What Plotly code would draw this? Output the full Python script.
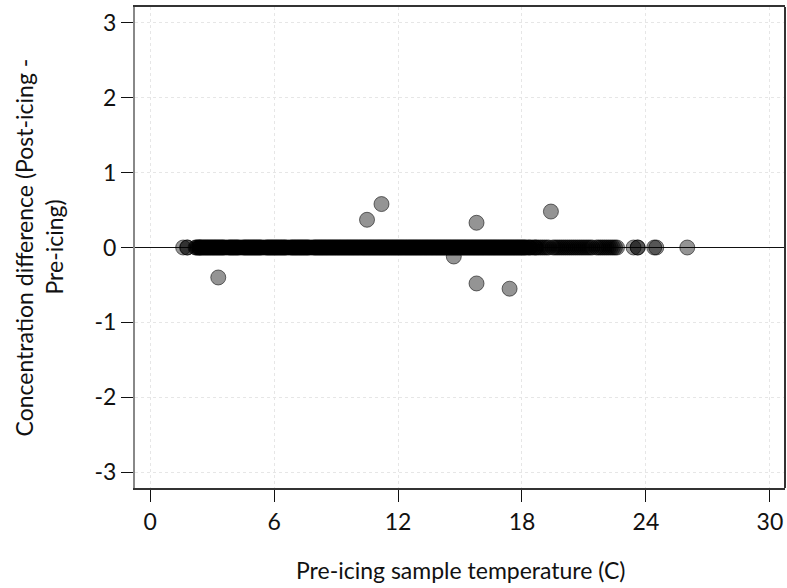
import plotly.graph_objects as go

# Samples with zero concentration difference (pre-icing temperature, C)
zero_temps = [
    1.6, 1.8, 1.8,
    2.2, 2.25, 2.3, 2.35, 2.4, 2.4, 2.45, 2.5, 2.55, 2.6, 2.65, 2.7, 2.75, 2.8, 2.85, 2.9, 2.95,
    3.0, 3.05, 3.1, 3.15, 3.2, 3.25, 3.3, 3.35, 3.4, 3.45, 3.5, 3.55, 3.6, 3.7, 3.8, 3.85, 3.9,
    3.95, 4.0, 4.05, 4.1, 4.15, 4.2, 4.25, 4.3, 4.4, 4.5, 4.55, 4.6, 4.65, 4.7, 4.75, 4.8, 4.85,
    4.9, 4.95, 5.0, 5.05, 5.1, 5.15, 5.2, 5.25, 5.3, 5.35, 5.4, 5.5, 5.6, 5.65, 5.7, 5.75, 5.8,
    5.85, 5.9, 5.95, 6.0, 6.05, 6.1, 6.15, 6.2, 6.25, 6.3, 6.35, 6.4, 6.45, 6.5, 6.55, 6.6, 6.7,
    6.8, 6.85, 6.9, 6.95, 7.0, 7.05, 7.1, 7.15, 7.2, 7.25, 7.3, 7.35, 7.4, 7.45, 7.5, 7.55, 7.6,
    7.65, 7.7, 7.8, 7.9, 7.95, 8.0, 8.05, 8.1, 8.15, 8.2, 8.25, 8.3, 8.35, 8.4, 8.45, 8.5, 8.55,
    8.6, 8.65, 8.7, 8.75, 8.8, 8.85, 8.9, 8.95, 9.0, 9.05, 9.1, 9.15, 9.2, 9.25, 9.3, 9.35, 9.4,
    9.45, 9.5, 9.55, 9.6, 9.65, 9.7, 9.75, 9.8, 9.85, 9.9, 9.95, 10.0, 10.05, 10.1, 10.15, 10.2,
    10.25, 10.3, 10.35, 10.4, 10.45, 10.5, 10.55, 10.6, 10.65, 10.7, 10.75, 10.8, 10.85, 10.9,
    10.95, 11.0, 11.05, 11.1, 11.15, 11.2, 11.25, 11.3, 11.35, 11.4, 11.45, 11.5, 11.55, 11.6,
    11.65, 11.7, 11.75, 11.8, 11.85, 11.9, 11.95, 12.0, 12.05, 12.1, 12.15, 12.2, 12.25, 12.3,
    12.35, 12.4, 12.45, 12.5, 12.55, 12.6, 12.65, 12.7, 12.75, 12.8, 12.85, 12.9, 12.95, 13.0,
    13.05, 13.1, 13.15, 13.2, 13.25, 13.3, 13.35, 13.4, 13.45, 13.5, 13.55, 13.6, 13.65, 13.7,
    13.75, 13.8, 13.85, 13.9, 13.95, 14.0, 14.05, 14.1, 14.15, 14.2, 14.25, 14.3, 14.35, 14.4,
    14.45, 14.5, 14.55, 14.6, 14.65, 14.7, 14.75, 14.8, 14.85, 14.9, 14.95, 15.0, 15.05, 15.1,
    15.15, 15.2, 15.25, 15.3, 15.35, 15.4, 15.45, 15.5, 15.55, 15.6, 15.65, 15.7, 15.75, 15.8,
    15.85, 15.9, 15.95, 16.0, 16.05, 16.1, 16.15, 16.2, 16.25, 16.3, 16.35, 16.4, 16.45, 16.5,
    16.55, 16.6, 16.65, 16.7, 16.75, 16.8, 16.85, 16.9, 16.95, 17.0, 17.05, 17.1, 17.15, 17.2,
    17.25, 17.3, 17.35, 17.4, 17.45, 17.5, 17.55, 17.6, 17.65, 17.7, 17.75, 17.8, 17.85, 17.9,
    17.95, 18.0, 18.05, 18.1, 18.15, 18.2, 18.3, 18.35, 18.4, 18.5, 18.6, 18.65, 18.7, 18.8,
    18.9, 19.0, 19.1, 19.2, 19.3, 19.5, 19.6, 19.7, 19.8, 19.9, 20.0, 20.1, 20.2, 20.3, 20.4,
    20.5, 20.6, 20.7, 20.8, 20.9, 21.0, 21.1, 21.2, 21.3, 21.4, 21.6, 21.7, 21.8, 21.9, 22.0,
    22.1, 22.2, 22.3, 22.4, 22.5, 22.6,
    23.4, 23.6, 23.6, 24.4, 24.5, 26.0,
]
zero_diffs = [0.0] * len(zero_temps)

# Samples with non-zero differences
outlier_temps = [3.3, 10.5, 11.2, 14.7, 15.8, 15.8, 17.4, 19.4]
outlier_diffs = [-0.40, 0.37, 0.58, -0.12, 0.33, -0.48, -0.55, 0.48]

x_ticks = [0, 6, 12, 18, 24, 30]
y_ticks = [-3, -2, -1, 0, 1, 2, 3]

FONT = "Lato"
FS = 23

fig = go.Figure()
fig.add_trace(go.Scatter(
    x=zero_temps + outlier_temps,
    y=zero_diffs + outlier_diffs,
    mode="markers",
    marker=dict(size=15, color="rgba(0,0,0,0.42)",
                line=dict(color="rgba(0,0,0,0.55)", width=1)),
    showlegend=False,
    hoverinfo="skip",
))

fig.update_layout(
    width=787, height=588,
    margin=dict(l=135, r=2, t=7, b=100),
    paper_bgcolor="white", plot_bgcolor="white",
    font=dict(family=FONT, size=FS, color="#111"),
    xaxis=dict(
        range=[-0.73, 30.73], tickvals=x_ticks, ticktext=[str(v) for v in x_ticks],
        showgrid=True, gridcolor="#e6e6e6", griddash="dot", gridwidth=1,
        zeroline=False, showline=True, linecolor="#333", linewidth=2, mirror=True,
        ticks="outside", ticklen=12, tickcolor="#111", tickwidth=1,
        tickfont=dict(size=FS),
    ),
    yaxis=dict(
        range=[-3.21, 3.21], tickvals=y_ticks, ticktext=[str(v) for v in y_ticks],
        showgrid=True, gridcolor="#e6e6e6", griddash="dot", gridwidth=1,
        zeroline=True, zerolinecolor="#111", zerolinewidth=1.3,
        showline=True, linecolor="#888", linewidth=2, mirror=False,
        ticks="outside", ticklen=12, tickcolor="#111", tickwidth=1,
        tickfont=dict(size=FS),
    ),
    shapes=[
        dict(type="line", xref="paper", yref="paper", x0=1, x1=1, y0=0, y1=1,
             line=dict(color="#333", width=2)),
    ],
    annotations=[
        dict(text="Concentration difference (Post-icing -", textangle=-90,
             xref="paper", yref="paper", x=(23 - 135) / 650, y=0.5,
             showarrow=False, xanchor="center", yanchor="middle", font=dict(size=FS)),
        dict(text="Pre-icing)", textangle=-90,
             xref="paper", yref="paper", x=(53 - 135) / 650, y=0.5,
             showarrow=False, xanchor="center", yanchor="middle", font=dict(size=FS)),
        dict(text="Pre-icing sample temperature (C)",
             xref="paper", yref="paper", x=0.5, y=(488 - 570) / 481,
             showarrow=False, xanchor="center", yanchor="middle", font=dict(size=FS)),
    ],
)

fig.write_html("out.html")
